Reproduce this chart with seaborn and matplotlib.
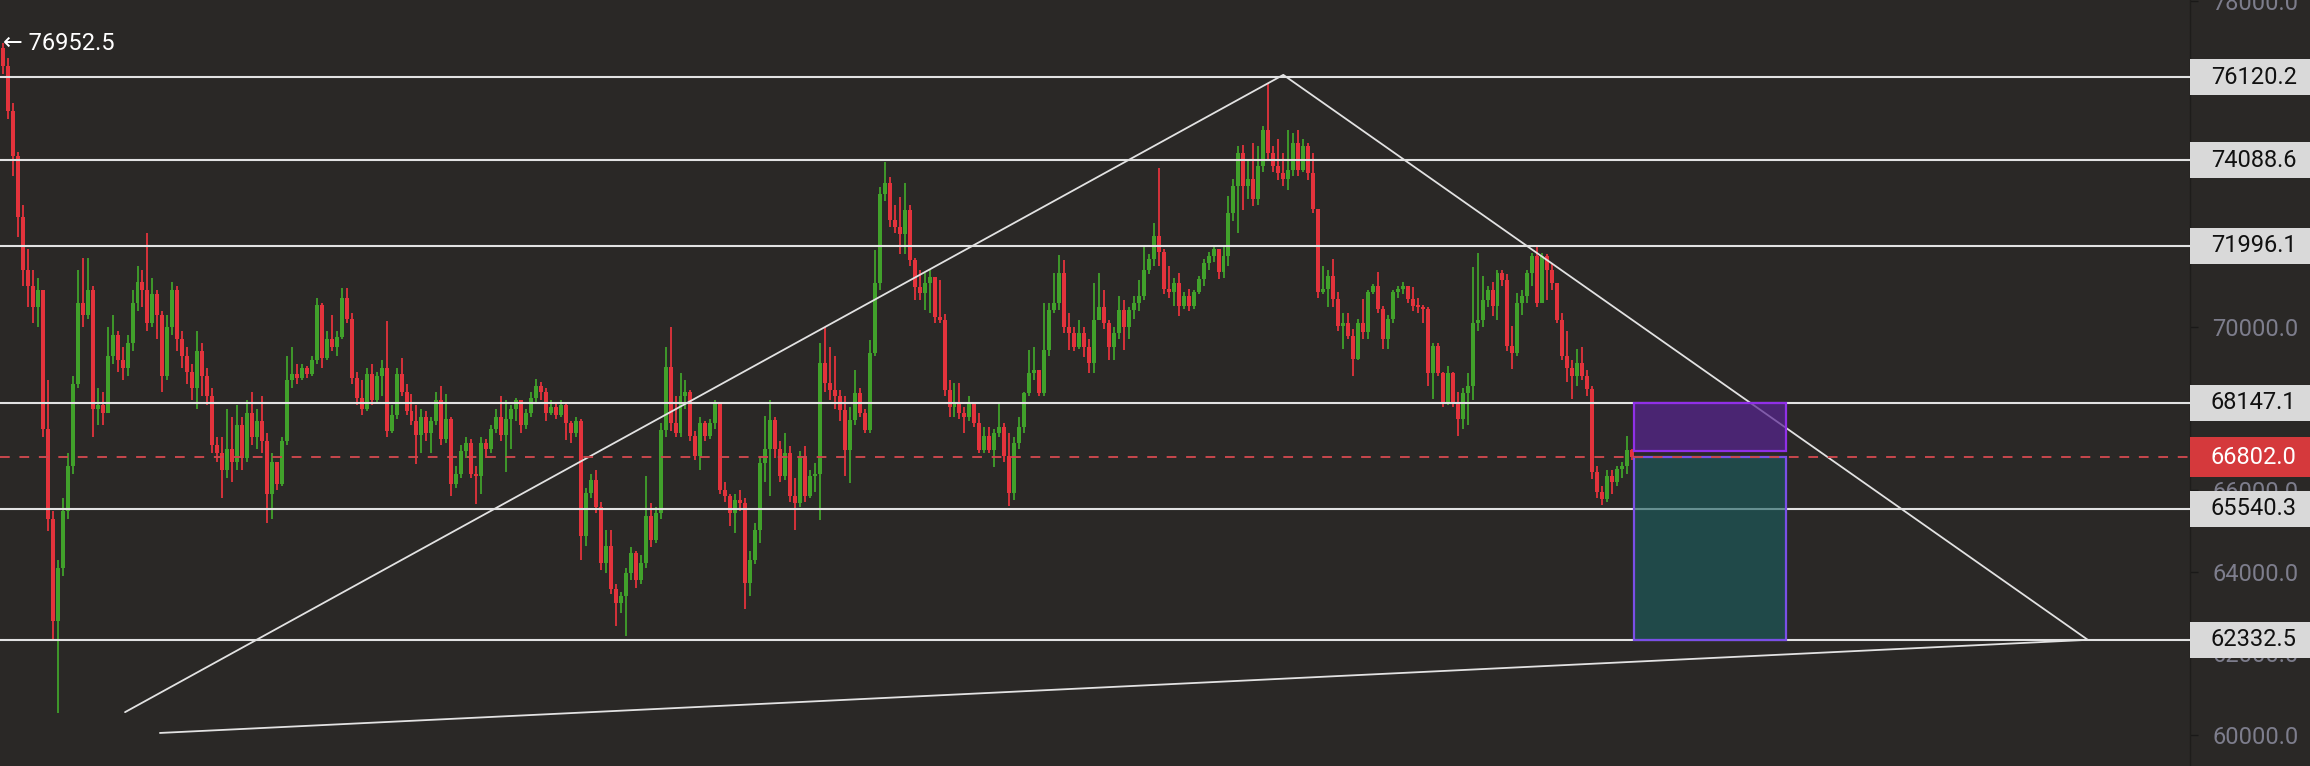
import numpy as np
import pandas as pd
import matplotlib
matplotlib.use("Agg")
import matplotlib.pyplot as plt
import seaborn as sns
from matplotlib.patches import Rectangle
from matplotlib.colors import to_rgba

# ---- candle data (one value per candle) ----
first_open = 76850
closes = [
    76400, 75300, 74200, 72700, 71400, 71000, 70500, 70900, 67500, 65300, 62800, 64100, 65500, 66600, 68600,
    70600, 70300, 70900, 68000, 68100, 67900, 69300, 69800, 69200, 69000, 69600, 70600, 71100, 70900, 70100,
    70800, 70300, 68800, 70000, 70900, 69700, 69300, 68900, 68500, 69400, 68800, 68300, 67100, 66900, 66500,
    67000, 66700, 67600, 66800, 67900, 67300, 67700, 67200,
    65900, 66700, 66150, 67200, 68700, 68850, 68750, 69000, 68850, 69200, 70550, 69250, 69700, 69500, 69750,
    70700, 70200, 68750, 68250, 68000, 68850, 68200, 68800, 69000, 67450, 67850, 68850, 68400, 67950, 67700,
    67350, 67800, 67400, 67700, 68200, 67250, 67750, 66150, 66400, 66950, 67150, 66400, 66350, 67150, 67000,
    67500, 67800, 67350, 67750, 68000, 68200, 67600, 67900, 68250, 68550, 68400, 67900, 68050, 67850, 68100,
    67640, 67400, 67700, 64870, 65930, 66260, 65600, 64220, 64630, 63570, 63240, 63400, 63970, 64460, 63800,
    64220, 65360, 64790, 65440, 67480, 69030, 67640, 67400, 68300, 68400, 67320, 66830, 67650, 67320, 67640,
    68130, 66010, 65850, 65440, 65770, 65690, 63730, 64300, 65030, 66660, 67000, 67730, 67000, 66340, 66910,
    65850, 65690, 66830, 65850, 66340, 66400, 69110, 68620, 68460, 68300, 67970, 66990, 67730, 68380,
    67890, 67480, 69360, 71070, 73270, 73520, 72620, 72460, 72290, 72860, 71640, 70990, 70830, 71070, 71230,
    70250, 70170, 68460, 68050, 68130, 67890, 67800, 68130, 67650, 66990, 67320, 66990, 67400, 67560, 66830,
    65930, 67150, 67560, 68380, 68870, 68950, 68380, 69440, 70420, 70580, 71320, 70010, 69850, 69520, 69850,
    69520, 69110, 70170, 70500, 70090, 69520, 69850, 70420, 70010, 70420, 70580, 70750, 71400,
    71660, 72230, 71830, 70930, 70850, 71090, 70520, 70760, 70520, 70850, 71170, 71580, 71740, 71910, 71340,
    71740, 72800, 73450, 74270, 73450, 73620, 73130, 73940, 74840, 74270, 73940, 73780, 73620, 73860, 74510,
    73860, 74430, 73780, 72890, 70850, 70930, 71260, 70680, 70030, 70110, 69790, 69220, 70110, 69870, 70850,
    71010, 70440, 69710, 70200, 70850, 70930, 71000, 70680,
    70510, 70500, 70430, 68880, 69530, 68880, 68150, 68880, 68150, 67740, 68390, 68550, 70100, 70180, 70670,
    70910, 70510, 71320, 71160, 69530, 69370, 70590, 70750, 71320, 71730, 70590, 71730, 71400, 71080, 70180,
    69290, 69000, 68800, 69120, 68800, 68470, 66440, 65950, 65790, 66360, 66200, 66520, 66600, 66980, 66802,
]
highs = [
    76952.5, 76600, 75500, 74300, 73000, 71900, 71400, 71200, 70700, 68700, 65500, 64300, 65800, 66900, 68800,
    71400, 71700, 71700, 71000, 68500, 68400, 70000, 70300, 69900, 69500, 69800, 70900, 71500, 71400, 72300,
    71200, 70900, 70400, 70300, 71100, 71000, 69900, 69500, 69100, 69900, 69600, 69000, 68500, 67300, 67300,
    68000, 67800, 68100, 67800, 68200, 68400, 68000, 68300,
    67400, 66900, 66700, 67300, 69300, 69500, 69100, 69100, 69050, 69300, 70700, 70600, 69900, 70300, 69900,
    70950, 70950, 70350, 68900, 68700, 69000, 69100, 68900, 69200, 70150, 68100, 69000, 69250, 68600, 68350,
    68100, 68000, 67950, 67800, 68400, 68550, 68350, 67800, 66600, 67100, 67300, 67250, 66600, 67300, 67250,
    67600, 68000, 68300, 68200, 68100, 68250, 68200, 68000, 68400, 68720, 68650, 68500, 68200, 68150, 68200,
    68150, 67700, 67800, 67750, 66050, 66400, 66500, 65700, 65030, 65030, 63700, 63500, 64100, 64600, 64500,
    64400, 66340, 65690, 65600, 67640, 69520, 70010, 68300, 68870, 68700, 68450, 67450, 67800, 67700, 67750,
    68220, 68130, 66200, 65900, 65900, 66010, 65800, 64500, 65200, 66800, 67810, 68220, 67800, 67200, 67400,
    67080, 66300, 66950, 67080, 66500, 66660, 69600, 70010, 69520, 69280, 68450, 68300, 68050, 68950,
    68500, 68000, 69680, 71890, 73440, 74050, 73680, 73000, 73190, 73520, 73000, 71700, 71400, 71320, 71400,
    71150, 71150, 70330, 68700, 68620, 68620, 68050, 68300, 68130, 67900, 67560, 67560, 67500, 68130, 67650,
    67400, 67300, 67800, 68400, 69440, 69520, 68870, 70580, 70580, 71320, 71760, 71640, 70340, 70010, 70170,
    70010, 69700, 71070, 71320, 70900, 70170, 70000, 70750, 70660, 70500, 70750, 71150, 71960,
    71800, 72560, 73900, 71900, 71500, 71200, 71330, 70850, 70930, 70900, 71250, 71660, 71830, 72000, 71910,
    71990, 73200, 73620, 74430, 74470, 74100, 74510, 74430, 74920, 75980, 74430, 74600, 74270, 74840, 74760,
    74840, 74600, 74500, 74270, 72900, 71500, 71400, 71660, 70850, 70350, 70350, 69950, 70200, 70680, 70900,
    71050, 71340, 70520, 70300, 70900, 71000, 71100, 71000,
    70990, 70700, 70550, 70500, 69600, 69600, 68900, 69050, 68900, 68400, 68500, 68880, 71480, 71810, 71240,
    71000, 71100, 71400, 71400, 71300, 70020, 70830, 70900, 71400, 71810, 71972, 71810, 71800, 71560, 71080,
    70340, 69900, 69200, 69450, 69500, 68950, 68550, 66600, 66100, 66500, 66500, 66600, 66700, 67330, 67000,
]
lows = [
    76200, 75100, 73700, 72200, 71000, 70500, 70100, 70000, 67300, 65000, 62300, 60540, 63900, 65300, 66400,
    68500, 70000, 70200, 67300, 67600, 67600, 67900, 69100, 68900, 68700, 68800, 69400, 70400, 70500, 69900,
    70000, 69700, 68400, 68700, 69800, 69400, 69000, 68600, 68200, 68000, 68300, 68100, 66900, 66700, 65800,
    66300, 66200, 66500, 66500, 66700, 67100, 67000, 66900,
    65200, 65300, 66000, 66100, 67100, 68500, 68600, 68700, 68750, 68800, 69100, 69000, 69200, 69400, 69300,
    69700, 70100, 68600, 68100, 67850, 67950, 68100, 68150, 68300, 67300, 67400, 67750, 68300, 67850, 67600,
    66650, 66900, 67200, 66900, 67600, 67100, 67150, 65850, 66050, 66300, 66800, 66300, 65650, 65900, 66800,
    66900, 67400, 67200, 66450, 67000, 67700, 67400, 67500, 67800, 68150, 68200, 67700, 67850, 67750, 67800,
    67240, 67150, 67300, 64300, 64630, 65800, 65450, 64050, 63970, 63450, 62670, 62990, 62420, 63800, 63600,
    63700, 64100, 64600, 64700, 65300, 67300, 67450, 67300, 67300, 68000, 67200, 66750, 66500, 67200, 67250,
    67500, 65900, 65700, 65120, 64950, 65500, 63080, 63400, 64200, 64700, 66200, 65850, 66800, 66200, 66250,
    65700, 65030, 65600, 65700, 65800, 65950, 65280, 68400, 68200, 68000, 67700, 66340, 66180, 67600,
    67800, 67400, 67400, 69300, 70900, 73100, 72450, 72300, 71800, 71800, 71500, 70660, 70660, 70420, 70340,
    70090, 70100, 68300, 67800, 67800, 67750, 67400, 67700, 67560, 66900, 66900, 66900, 66580, 67300, 66700,
    65610, 65770, 67000, 67400, 68300, 68700, 68300, 68300, 69300, 70340, 70420, 69850, 69440, 69400, 69450,
    69270, 68870, 68870, 70200, 69950, 69190, 69190, 69700, 69440, 69700, 70200, 70400, 70650,
    71300, 71500, 71500, 70800, 70700, 70520, 70280, 70440, 70400, 70450, 70800, 71000, 71400, 71600, 71170,
    71200, 71500, 72600, 72310, 72880, 73130, 72960, 73000, 73800, 74100, 73800, 73600, 73450, 73370, 73700,
    73700, 73800, 73600, 72800, 70700, 70800, 70500, 70500, 69900, 69460, 69700, 68810, 69200, 69700, 69700,
    70800, 70350, 69460, 69460, 70100, 70700, 70800, 70600,
    70400, 70350, 70100, 68550, 68230, 68800, 68050, 68100, 68050, 67330, 67500, 67600, 68200, 69900, 70000,
    70500, 70260, 70180, 71000, 69400, 68960, 69300, 70300, 70600, 71000, 70500, 70600, 70670, 70900, 70100,
    69200, 68640, 68230, 68550, 68700, 68300, 66280, 65800, 65625, 65700, 65900, 66100, 66300, 66400, 66750,
]

# ---- drawn levels / annotations ----
level_prices = [76120.2, 74088.6, 71996.1, 68147.1, 65540.3, 62332.5]
last_price = 66802.0
top_label = 76952.5
tick_values = [60000, 62000, 64000, 66000, 68000, 70000, 72000, 74000, 76000, 78000]
tick_labels = ["60000.0", "62000.0", "64000.0", "66000.0", "", "70000.0", "", "", "", "78000.0"]
# triangle path: (bar index, price)
tri_bars = [24.5, 257.0, 418.5, 31.5]
tri_prices = [60560, 76180, 62332.5, 60050]
# long position tool
box_bars = [327.5, 358.0]
stop_price = 68147.1
stop_bottom = 66960
target_price = 62332.5

bg = "#2a2826"
red = "#e3333c"
green = "#41a12b"
line_col = "#e2e2e2"

sns.set_theme(style="dark", rc={"axes.facecolor": bg, "figure.facecolor": bg})
plt.rcParams["font.family"] = ["Roboto", "DejaVu Sans"]

df = pd.DataFrame({"close": closes, "high": highs, "low": lows})
df["open"] = [first_open] + closes[:-1]
df["bar"] = np.arange(len(df))
df["high"] = df[["high", "open", "close"]].max(axis=1)
df["low"] = df[["low", "open", "close"]].min(axis=1)
colors = np.where(df["close"] >= df["open"], green, red)

W, H = 2310, 766
plot_w = 2190
fig = plt.figure(figsize=(W / 100, H / 100), dpi=100)
ax = fig.add_axes([0, 0, plot_w / W, 1])

n = len(df)
step = (1632 - 3) / (n - 1)
ax.set_xlim(-3 / step, (plot_w - 3) / step)
y0, y1 = 59240, 78015
ax.set_ylim(y0, y1)
px = (y1 - y0) / H

# candles
ax.vlines(df["bar"], df["low"], df["high"], colors=colors, lw=1.3, zorder=2)
body_lo = df[["open", "close"]].min(axis=1)
body_h = (df["close"] - df["open"]).abs().clip(lower=40)
ax.bar(df["bar"], body_h, bottom=body_lo, width=0.8, color=colors, lw=0, zorder=2)

# horizontal levels
for p in level_prices:
    ax.axhline(p, color=line_col, lw=1.5, zorder=3)

# triangle
sns.lineplot(x=tri_bars, y=tri_prices, sort=False, estimator=None, color=line_col,
             lw=1.3, ax=ax, zorder=3)

# position boxes
bw = box_bars[1] - box_bars[0]
ax.add_patch(Rectangle((box_bars[0], stop_bottom), bw, stop_price - stop_bottom,
                       fc=to_rgba("#582493", 0.7), ec="#9030e8", lw=1.6, zorder=4))
ax.add_patch(Rectangle((box_bars[0], target_price), bw, last_price - target_price,
                       fc=to_rgba("#1b5e60", 0.62), ec="#7a4fe6", lw=1.6, zorder=4))

# last price dashed line
ax.axhline(last_price, color="#c9474d", lw=1.4, ls=(0, (5, 5)), zorder=6)

# top-left high label
ax.text(0.0, top_label, "\u2190 76952.5", color="white", fontsize=17,
        ha="left", va="center", zorder=8)

# right price axis
ax.yaxis.tick_right()
ax.set_yticks(tick_values)
ax.set_yticklabels(tick_labels)
ax.tick_params(axis="y", length=6, width=1, color="#1a1918", pad=10,
               labelsize=17, labelcolor="#7d7d8c")
ax.set_xticks([])
for side in ["top", "left", "bottom"]:
    ax.spines[side].set_visible(False)
ax.spines["right"].set_color("#1e1d1b")
ax.spines["right"].set_linewidth(1)
ax.set_xlabel("")
ax.set_ylabel("")

trans = ax.get_yaxis_transform()
box_w = (W - plot_w) / plot_w
text_x = 1.0 + 21 / plot_w
for p in level_prices:
    ax.add_patch(Rectangle((1.0, p - 18 * px), box_w, 36 * px, transform=trans,
                           clip_on=False, fc="#d9d9d9", ec="none", zorder=10))
    ax.text(text_x, p, f"{p:.1f}", transform=trans, ha="left", va="center",
            fontsize=17, color="#111111", zorder=11, clip_on=False)
ax.add_patch(Rectangle((1.0, last_price - 20 * px), box_w, 40 * px, transform=trans,
                       clip_on=False, fc="#d5393c", ec="none", zorder=10))
ax.text(text_x, last_price, f"{last_price:.1f}", transform=trans, ha="left", va="center",
        fontsize=17, color="white", zorder=11, clip_on=False)

fig.savefig("out.png", dpi=100, facecolor=bg)
